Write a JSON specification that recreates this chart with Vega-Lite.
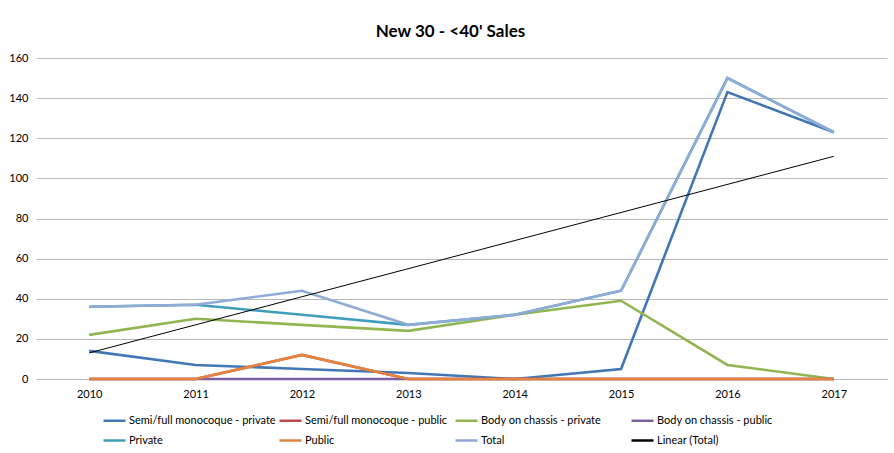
{
  "$schema": "https://vega.github.io/schema/vega-lite/v6.json",
  "width": 851,
  "height": 321,
  "autosize": {"type": "none"},
  "padding": {"left": 36, "top": 58, "right": 7, "bottom": 74},
  "background": "white",
  "title": {"text": "New 30 - <40' Sales", "font": "Lato", "fontSize": 17, "fontWeight": "bold", "color": "#000000", "anchor": "middle", "dx": -11, "offset": 11},
  "config": {"view": {"stroke": null}, "font": "Lato"},
  "data": {"values": [
    {"year": "2010", "series": "Semi/full monocoque - private", "v": 14},
    {"year": "2011", "series": "Semi/full monocoque - private", "v": 7},
    {"year": "2012", "series": "Semi/full monocoque - private", "v": 5},
    {"year": "2013", "series": "Semi/full monocoque - private", "v": 3},
    {"year": "2014", "series": "Semi/full monocoque - private", "v": 0},
    {"year": "2015", "series": "Semi/full monocoque - private", "v": 5},
    {"year": "2016", "series": "Semi/full monocoque - private", "v": 143},
    {"year": "2017", "series": "Semi/full monocoque - private", "v": 123},
    {"year": "2010", "series": "Semi/full monocoque - public", "v": 0},
    {"year": "2011", "series": "Semi/full monocoque - public", "v": 0},
    {"year": "2012", "series": "Semi/full monocoque - public", "v": 12},
    {"year": "2013", "series": "Semi/full monocoque - public", "v": 0},
    {"year": "2014", "series": "Semi/full monocoque - public", "v": 0},
    {"year": "2015", "series": "Semi/full monocoque - public", "v": 0},
    {"year": "2016", "series": "Semi/full monocoque - public", "v": 0},
    {"year": "2017", "series": "Semi/full monocoque - public", "v": 0},
    {"year": "2010", "series": "Body on chassis - private", "v": 22},
    {"year": "2011", "series": "Body on chassis - private", "v": 30},
    {"year": "2012", "series": "Body on chassis - private", "v": 27},
    {"year": "2013", "series": "Body on chassis - private", "v": 24},
    {"year": "2014", "series": "Body on chassis - private", "v": 32},
    {"year": "2015", "series": "Body on chassis - private", "v": 39},
    {"year": "2016", "series": "Body on chassis - private", "v": 7},
    {"year": "2017", "series": "Body on chassis - private", "v": 0},
    {"year": "2010", "series": "Body on chassis - public", "v": 0},
    {"year": "2011", "series": "Body on chassis - public", "v": 0},
    {"year": "2012", "series": "Body on chassis - public", "v": 0},
    {"year": "2013", "series": "Body on chassis - public", "v": 0},
    {"year": "2014", "series": "Body on chassis - public", "v": 0},
    {"year": "2015", "series": "Body on chassis - public", "v": 0},
    {"year": "2016", "series": "Body on chassis - public", "v": 0},
    {"year": "2017", "series": "Body on chassis - public", "v": 0},
    {"year": "2010", "series": "Private", "v": 36},
    {"year": "2011", "series": "Private", "v": 37},
    {"year": "2012", "series": "Private", "v": 32},
    {"year": "2013", "series": "Private", "v": 27},
    {"year": "2014", "series": "Private", "v": 32},
    {"year": "2015", "series": "Private", "v": 44},
    {"year": "2016", "series": "Private", "v": 150},
    {"year": "2017", "series": "Private", "v": 123},
    {"year": "2010", "series": "Public", "v": 0},
    {"year": "2011", "series": "Public", "v": 0},
    {"year": "2012", "series": "Public", "v": 12},
    {"year": "2013", "series": "Public", "v": 0},
    {"year": "2014", "series": "Public", "v": 0},
    {"year": "2015", "series": "Public", "v": 0},
    {"year": "2016", "series": "Public", "v": 0},
    {"year": "2017", "series": "Public", "v": 0},
    {"year": "2010", "series": "Total", "v": 36},
    {"year": "2011", "series": "Total", "v": 37},
    {"year": "2012", "series": "Total", "v": 44},
    {"year": "2013", "series": "Total", "v": 27},
    {"year": "2014", "series": "Total", "v": 32},
    {"year": "2015", "series": "Total", "v": 44},
    {"year": "2016", "series": "Total", "v": 150},
    {"year": "2017", "series": "Total", "v": 123},
    {"year": "2010", "series": "Linear (Total)", "v": 13},
    {"year": "2017", "series": "Linear (Total)", "v": 111}
  ]},
  "mark": {"type": "line", "strokeCap": "butt", "strokeJoin": "miter"},
  "encoding": {
    "x": {"field": "year", "type": "ordinal", "scale": {"type": "point", "padding": 0.5},
      "axis": {"title": null, "labelAngle": 0, "ticks": false, "domain": false, "labelFont": "Lato", "labelFontSize": 11, "labelColor": "#000000", "labelPadding": 9}},
    "y": {"field": "v", "type": "quantitative", "scale": {"domain": [0, 160], "nice": false},
      "axis": {"title": null, "values": [0, 20, 40, 60, 80, 100, 120, 140, 160], "ticks": false, "domain": false, "gridColor": "#b8b8b8", "gridWidth": 1.2, "labelFont": "Lato", "labelFontSize": 11, "labelColor": "#000000", "labelPadding": 8}},
    "color": {"field": "series", "type": "nominal",
      "scale": {"domain": ["Semi/full monocoque - private", "Semi/full monocoque - public", "Body on chassis - private", "Body on chassis - public", "Private", "Public", "Total", "Linear (Total)"],
        "range": ["#4376b5", "#be4b48", "#91b550", "#7d60a0", "#3f9fbb", "#e4843f", "#90acd6", "#000000"]},
      "legend": {"title": null, "orient": "none", "legendX": 66, "legendY": 350, "direction": "horizontal", "columns": 4, "gridAlign": "all", "columnPadding": -2, "rowPadding": 2, "symbolType": "stroke", "symbolSize": 484, "symbolStrokeWidth": 2.5, "labelFont": "Lato", "labelFontSize": 11, "labelColor": "#000000", "labelOffset": 2}},
    "strokeWidth": {"condition": {"test": "datum.series === 'Linear (Total)'", "value": 1}, "value": 2.6}
  }
}
